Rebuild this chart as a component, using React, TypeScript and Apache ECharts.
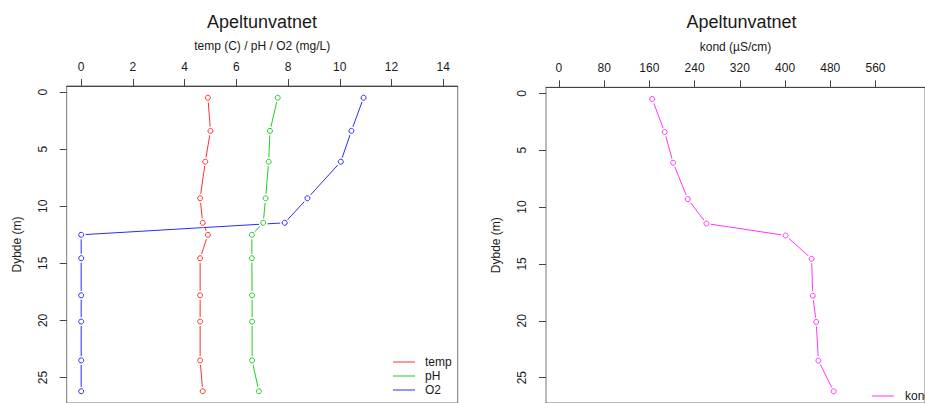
import React, { useEffect, useRef } from "react";
import * as echarts from "echarts";

// Data
const depths = [0.5, 3.4, 6.1, 9.3, 11.45, 12.5, 14.55, 17.8, 20.1, 23.5, 26.2];
const temp = [4.9, 5.0, 4.8, 4.6, 4.7, 4.9, 4.6, 4.6, 4.6, 4.6, 4.7];
const pH = [7.6, 7.3, 7.25, 7.13, 7.04, 6.6, 6.6, 6.61, 6.61, 6.61, 6.87];
const O2 = [10.92, 10.45, 10.04, 8.75, 7.87, 0, 0, 0, 0, 0, 0];
const kond = [165, 187, 202, 228, 261, 401, 447, 449, 455, 459, 486];

const leftTicks = [0, 2, 4, 6, 8, 10, 12, 14];
const rightTicks = [0, 80, 160, 240, 320, 400, 480, 560];
const depthTicks = [0, 5, 10, 15, 20, 25];

const title = "Apeltunvatnet";
const leftAxisName = "temp (C) / pH / O2 (mg/L)";
const rightAxisName = "kond (µS/cm)";
const depthName = "Dybde (m)";

const FONT = "'Liberation Sans', Arial, sans-serif";
const TXT = "#1a1a1a";

function pairs(xs: number[]) {
  return xs.map((v, i) => [v, depths[i]]);
}

function profile(name: string, values: number[], color: string, idx: number) {
  const data = pairs(values);
  return [
    {
      type: "line",
      name,
      xAxisIndex: idx,
      yAxisIndex: idx,
      data,
      symbol: "none",
      color,
      lineStyle: { color, width: 1 },
      silent: true,
      z: 2,
    },
    {
      type: "scatter",
      name: name + "_gap",
      xAxisIndex: idx,
      yAxisIndex: idx,
      data,
      symbol: "circle",
      symbolSize: 9,
      itemStyle: { color: "#ffffff", opacity: 1 },
      silent: true,
      z: 2,
    },
    {
      type: "scatter",
      name: name + "_pt",
      xAxisIndex: idx,
      yAxisIndex: idx,
      data,
      symbol: "circle",
      symbolSize: 5,
      itemStyle: { color: "#ffffff", borderColor: color, borderWidth: 1, opacity: 1 },
      silent: true,
      z: 2,
    },
  ];
}

function xAxisDef(idx: number, name: string, ticks: number[], min: number, max: number) {
  return {
    type: "value",
    gridIndex: idx,
    position: "top",
    min,
    max,
    name,
    nameLocation: "middle",
    nameGap: 34,
    nameTextStyle: { fontFamily: FONT, fontSize: 12, color: TXT },
    axisLine: { show: true, onZero: false, lineStyle: { color: "#444", width: 1 } },
    axisTick: { show: true, length: 7, customValues: ticks, lineStyle: { color: "#444" } },
    axisLabel: {
      show: true,
      customValues: ticks,
      margin: 13,
      fontFamily: FONT,
      fontSize: 12,
      color: TXT,
    },
    splitLine: { show: false },
  };
}

function yAxisDef(idx: number) {
  return {
    type: "value",
    gridIndex: idx,
    position: "left",
    inverse: true,
    min: -0.53,
    max: 27.23,
    name: depthName,
    nameLocation: "middle",
    nameGap: 44,
    nameTextStyle: { fontFamily: FONT, fontSize: 12, color: TXT },
    axisLine: { show: false, onZero: false },
    axisTick: { show: true, length: 7, customValues: depthTicks, lineStyle: { color: "#444" } },
    axisLabel: {
      show: true,
      customValues: depthTicks,
      rotate: 90,
      margin: 18,
      fontFamily: FONT,
      fontSize: 12,
      color: TXT,
    },
    splitLine: { show: false },
  };
}

export default function App() {
  const ref = useRef<HTMLDivElement>(null);

  useEffect(() => {
    if (!ref.current) return;
    const chart = echarts.init(ref.current, undefined, { renderer: "svg" });
    const option: any = {
      animation: false,
      backgroundColor: "#ffffff",
      graphic: [
        {
          type: "text",
          x: 262,
          y: 22,
          style: {
            text: title,
            fontFamily: FONT,
            fontSize: 18,
            fill: TXT,
            align: "center",
            verticalAlign: "middle",
          },
        },
        {
          type: "text",
          x: 741.5,
          y: 22,
          style: {
            text: title,
            fontFamily: FONT,
            fontSize: 18,
            fill: TXT,
            align: "center",
            verticalAlign: "middle",
          },
        },
      ],
      grid: [
        {
          left: 66.7,
          top: 86,
          width: 391,
          height: 317.6,
          show: true,
          borderColor: "#777",
          borderWidth: 1,
          backgroundColor: "transparent",
        },
        {
          left: 546,
          top: 87.3,
          width: 391,
          height: 322.6,
          show: true,
          borderColor: "#777",
          borderWidth: 1,
          backgroundColor: "transparent",
        },
      ],
      xAxis: [
        xAxisDef(0, leftAxisName, leftTicks, -0.56, 14.56),
        xAxisDef(1, rightAxisName, rightTicks, -22.8, 647.5),
      ],
      yAxis: [yAxisDef(0), yAxisDef(1)],
      legend: [
        {
          data: ["temp", "pH", "O2"],
          left: 393,
          top: 355,
          orient: "vertical",
          icon: "rect",
          itemWidth: 22,
          itemHeight: 1,
          itemGap: 0,
          padding: 0,
          selectedMode: false,
          textStyle: {
            fontFamily: FONT,
            fontSize: 12,
            color: TXT,
            lineHeight: 14,
            padding: [0, 0, 0, 5],
          },
        },
        {
          data: ["kond"],
          left: 872,
          top: 389,
          orient: "vertical",
          icon: "rect",
          itemWidth: 22,
          itemHeight: 1,
          itemGap: 0,
          padding: 0,
          selectedMode: false,
          textStyle: {
            fontFamily: FONT,
            fontSize: 12,
            color: TXT,
            lineHeight: 14,
            padding: [0, 0, 0, 6],
          },
        },
      ],
      series: [
        ...profile("temp", temp, "#ff3030", 0),
        ...profile("pH", pH, "#22cc22", 0),
        ...profile("O2", O2, "#2a2aff", 0),
        ...profile("kond", kond, "#ff33ff", 1),
      ],
    };
    chart.setOption(option);
    return () => {
      chart.dispose();
    };
  }, []);

  return (
    <div
      ref={ref}
      style={{ position: "fixed", left: 0, top: 0, width: 925, height: 403, background: "#fff" }}
    />
  );
}
